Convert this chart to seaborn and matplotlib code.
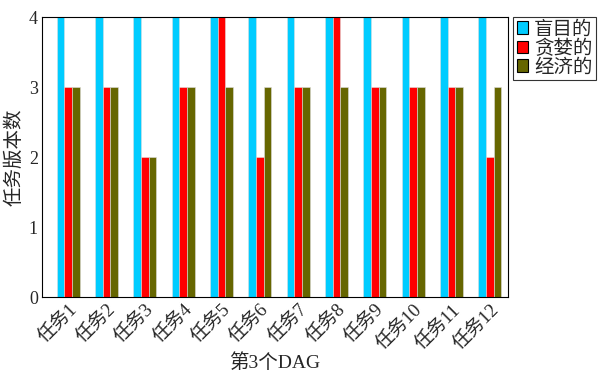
import matplotlib
matplotlib.use("Agg")
import matplotlib.pyplot as plt
import seaborn as sns
import pandas as pd

tasks = ["任务1", "任务2", "任务3", "任务4", "任务5", "任务6",
         "任务7", "任务8", "任务9", "任务10", "任务11", "任务12"]
series = ["盲目的", "贪婪的", "经济的"]
blind = [4, 4, 4, 4, 4, 4, 4, 4, 4, 4, 4, 4]
greedy = [3, 3, 2, 3, 4, 2, 3, 4, 3, 3, 3, 2]
economic = [3, 3, 2, 3, 3, 3, 3, 3, 3, 3, 3, 3]
colors = ["#00CCFF", "#FF0000", "#666600"]

rows = []
for name, vals in zip(series, [blind, greedy, economic]):
    for t, v in zip(tasks, vals):
        rows.append({"task": t, "series": name, "value": v})
df = pd.DataFrame(rows)

sns.set_theme(style="white")
fam = ["Liberation Serif", "Noto Sans CJK SC", "DejaVu Sans"]
plt.rcParams["font.family"] = fam

fig = plt.figure(figsize=(5.98, 3.74), dpi=100)
ax = fig.add_axes([42 / 598, 77 / 374, 466 / 598, 280 / 374])

sns.barplot(data=df, x="task", y="value", hue="series", order=tasks,
            hue_order=series, palette=colors, saturation=1, width=0.6, gap=0,
            edgecolor="#dddddd", linewidth=0.4, ax=ax, legend=True)

ax.set_xlim(-0.68, 11.47)
ax.set_ylim(0, 4)
ax.set_yticks([0, 1, 2, 3, 4])
ax.tick_params(axis="y", length=0, labelsize=13, pad=3)
ax.tick_params(axis="x", length=0, labelsize=13.5, pad=3)
plt.setp(ax.get_xticklabels(), rotation=45, ha="right", rotation_mode="anchor")
ax.set_xlabel("第3个DAG", fontsize=14, labelpad=0)
ax.set_ylabel("任务版本数", fontsize=14, labelpad=4)
for s in ax.spines.values():
    s.set_visible(True)
    s.set_color("black")
    s.set_linewidth(0.8)

h, l = ax.get_legend_handles_labels()
ax.legend(h, l, loc="upper left", bbox_to_anchor=(1.01, 1.0), borderaxespad=0,
          frameon=True, fancybox=False, edgecolor="black", fontsize=14,
          handlelength=0.6, handleheight=0.6, handletextpad=0.3,
          labelspacing=0.05, borderpad=0.2)
leg = ax.get_legend()
leg.get_frame().set_linewidth(0.8)
for p in leg.get_patches():
    p.set_edgecolor("black")
    p.set_linewidth(0.8)

fig.savefig("out.png", dpi=100)
